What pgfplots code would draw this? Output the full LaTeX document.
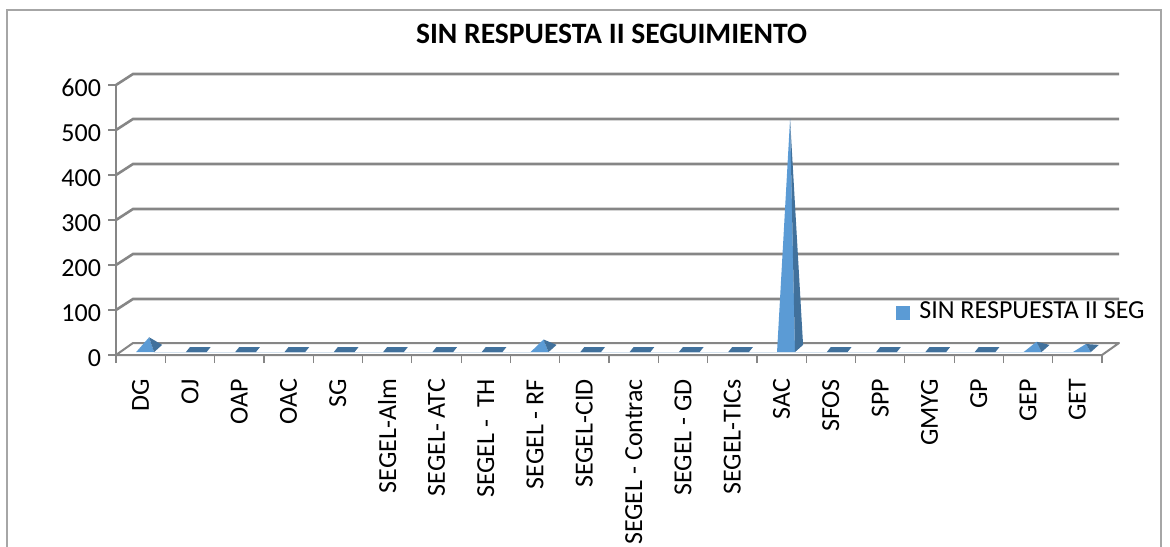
\documentclass[border=0pt]{standalone}
\usepackage{fontspec}
\setmainfont{Carlito}
\usepackage{pgfplots}
\pgfplotsset{compat=1.18}
\definecolor{pyrlight}{HTML}{5B9BD5}
\definecolor{pyrdark}{HTML}{41719C}
\definecolor{gridgray}{HTML}{868686}
\definecolor{framegray}{HTML}{A6A6A6}
\pgfdeclareplotmark{flatbar}{%
 \pgfpathmoveto{\pgfqpoint{-6pt}{0pt}}%
 \pgfpathlineto{\pgfqpoint{4.35pt}{0pt}}%
 \pgfpathlineto{\pgfqpoint{6.35pt}{2.5pt}}%
 \pgfpathlineto{\pgfqpoint{-4pt}{2.5pt}}%
 \pgfpathclose\pgfusepathqfill}
\newcommand{\lblfont}{\fontsize{13}{15}\selectfont}
\begin{document}
\begin{tikzpicture}
\useasboundingbox (0,0) rectangle (585pt,273pt);
\draw[framegray, line width=0.6pt] (3.5pt,-5pt) -- (3.5pt,268pt) -- (580.5pt,268pt) -- (580.5pt,-5pt);
\begin{axis}[
 at={(58pt,95.5pt)}, anchor=south west,
 scale only axis, width=493pt, height=135pt,
 xmin=-0.5, xmax=19.5, ymin=0, ymax=600,
 clip=false,
 axis line style={draw=none},
 xtick={0,...,19},
 xticklabels={DG,OJ,OAP,OAC,SG,SEGEL-Alm,SEGEL- ATC,SEGEL - \ TH,SEGEL - RF,SEGEL-CID,SEGEL - Contrac,SEGEL - GD,SEGEL-TICs,SAC,SFOS,SPP,GMYG,GP,GEP,GET},
 minor xtick={-0.5,0.5,...,19.5},
 ytick={0,100,...,600},
 tick align=outside,
 tick pos=left,
 major tick length=4pt, minor tick length=4pt,
 major x tick style={draw=none},
 tick style={color=gridgray, line width=0.6pt},
 /pgf/number format/assume math mode=true,
 yticklabel style={font=\lblfont, yshift=-1.5pt},
 xticklabel style={yshift=-4.5pt, rotate=90, anchor=east, font=\lblfont},
 title={SIN RESPUESTA II SEGUIMIENTO},
 title style={font=\bfseries\fontsize{14.8}{17}\selectfont, at={(0.5025,1)}, anchor=center, yshift=19.5pt},
 legend style={at={(0.791,0.16)}, anchor=west, draw=none, fill=none, font=\lblfont, inner sep=0pt},
 legend cell align=left,
]
 \draw[gridgray, line width=0.6pt] (axis cs:-0.5,0) -- (axis cs:-0.5,600);
 \draw[gridgray, line width=1.3pt] (axis cs:-0.5,100) -- ++(8.5pt,5.5pt) -- ([xshift=8.5pt,yshift=5.5pt]axis cs:19.5,100);
 \draw[gridgray, line width=1.3pt] (axis cs:-0.5,200) -- ++(8.5pt,5.5pt) -- ([xshift=8.5pt,yshift=5.5pt]axis cs:19.5,200);
 \draw[gridgray, line width=1.3pt] (axis cs:-0.5,300) -- ++(8.5pt,5.5pt) -- ([xshift=8.5pt,yshift=5.5pt]axis cs:19.5,300);
 \draw[gridgray, line width=1.3pt] (axis cs:-0.5,400) -- ++(8.5pt,5.5pt) -- ([xshift=8.5pt,yshift=5.5pt]axis cs:19.5,400);
 \draw[gridgray, line width=1.3pt] (axis cs:-0.5,500) -- ++(8.5pt,5.5pt) -- ([xshift=8.5pt,yshift=5.5pt]axis cs:19.5,500);
 \draw[gridgray, line width=1.3pt] (axis cs:-0.5,600) -- ++(8.5pt,5.5pt) -- ([xshift=8.5pt,yshift=5.5pt]axis cs:19.5,600);
 \draw[gridgray, line width=1pt, line join=round] (axis cs:-0.5,0) -- ++(8.5pt,6pt) -- ([xshift=8.5pt,yshift=6pt]axis cs:19.5,0) -- (axis cs:19.5,0) -- cycle;

% zero-valued categories (flat bases)
\addplot[only marks, mark=flatbar, color=pyrdark, xshift=4pt, yshift=1.5pt, forget plot]
 coordinates {(1,0) (2,0) (3,0) (4,0) (5,0) (6,0) (7,0) (9,0) (10,0) (11,0) (12,0) (14,0) (15,0) (16,0) (17,0)};

% pyramids: front faces (apex = value)
\addplot[fill=pyrlight, draw=none, xshift=4.25pt, yshift=3.25pt,
 legend image code/.code={\fill[pyrlight] (0pt,-7.3pt) rectangle (7pt,-0.3pt); \path (9.5pt,0pt);}]
 coordinates {
 (-0.264,-8) (0,25) (0.1,-8) (-0.264,-8) (nan,nan)
 (7.736,-8) (8,20) (8.1,-8) (7.736,-8) (nan,nan)
 (12.736,-8) (13,510) (13.1,-8) (12.736,-8) (nan,nan)
 (17.736,-8) (18,15) (18.1,-8) (17.736,-8) (nan,nan)
 (18.736,-8) (19,10) (19.1,-8) (18.736,-8)
 };
\addlegendentry{SIN RESPUESTA II SEG}
% pyramids: right faces
\addplot[fill=pyrdark, draw=none, xshift=4.25pt, yshift=3.25pt, forget plot]
 coordinates {
 (0.1,-8) (0,25) (0.264,8) (0.1,-8) (nan,nan)
 (8.1,-8) (8,20) (8.264,8) (8.1,-8) (nan,nan)
 (13.1,-8) (13,510) (13.264,8) (13.1,-8) (nan,nan)
 (18.1,-8) (18,15) (18.264,8) (18.1,-8) (nan,nan)
 (19.1,-8) (19,10) (19.264,8) (19.1,-8)
 };
\end{axis}
\end{tikzpicture}
\end{document}
